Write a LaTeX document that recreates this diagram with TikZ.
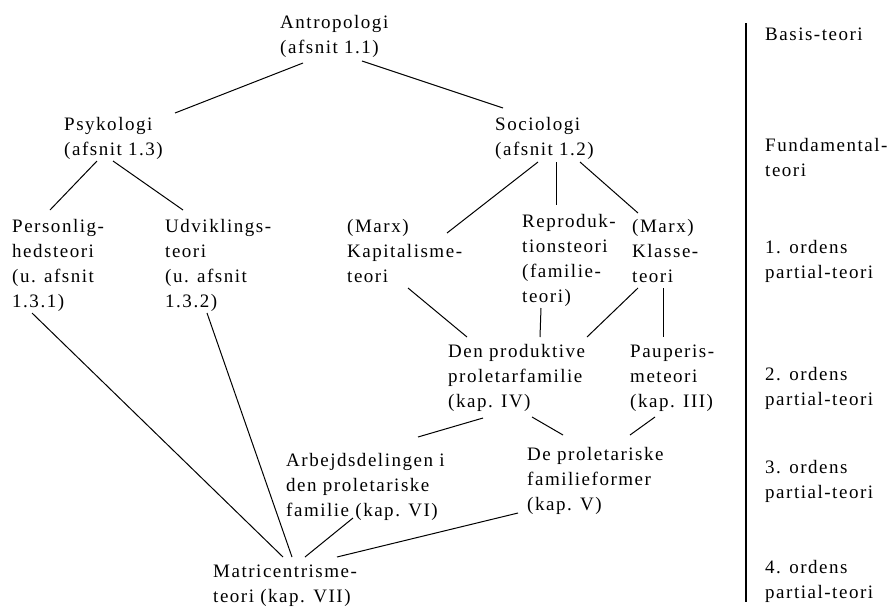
\documentclass[tikz,border=0pt]{standalone}
\usepackage{fontspec}
\setmainfont{Liberation Serif}[LetterSpace=8]
\usepackage{tikz}

\newcommand{\stk}[1]{\begin{tabular}[t]{@{}l@{}}#1\end{tabular}}

\begin{document}
\begin{tikzpicture}[x=1pt, y=-1pt,
  txt/.style={inner sep=0pt, anchor=base west, font=\fontsize{19}{25}\selectfont},
  link/.style={line width=1pt}]
\useasboundingbox (0,0) rectangle (891,606);

\node[txt] (antro) at (280,28) {\stk{Antropologi\\(afsnit 1.1)}};
\node[txt] (psyk) at (64,130) {\stk{Psykologi\\(afsnit 1.3)}};
\node[txt] (socio) at (495,130) {\stk{Sociologi\\(afsnit 1.2)}};

\node[txt] (pers) at (12,232) {\stk{Personlig-\\hedsteori\\(u. afsnit\\1.3.1)}};
\node[txt] (udv) at (165,232) {\stk{Udviklings-\\teori\\(u. afsnit\\1.3.2)}};
\node[txt] (kapit) at (347,232) {\stk{(Marx)\\Kapitalisme-\\teori}};
\node[txt] (repro) at (522,227) {\stk{Reproduk-\\tionsteori\\(familie-\\teori)}};
\node[txt] (klasse) at (632,232) {\stk{(Marx)\\Klasse-\\teori}};

\node[txt] (prodfam) at (448,357) {\stk{Den produktive\\proletarfamilie\\(kap. IV)}};
\node[txt] (pauper) at (630,357) {\stk{Pauperis-\\meteori\\(kap. III)}};

\node[txt] (arbejd) at (286,466) {\stk{Arbejdsdelingen i\\den proletariske\\familie (kap. VI)}};
\node[txt] (proleform) at (527,460) {\stk{De proletariske\\familieformer\\(kap. V)}};

\node[txt] (matri) at (213,577) {\stk{Matricentrisme-\\teori (kap. VII)}};

% levels
\coordinate (divtop) at (746,23);
\coordinate (divbot) at (746,602);
\draw[line width=1.8pt] (divtop) -- (divbot);
\node[txt] (basis) at (765,40) {Basis-teori};
\node[txt] (fund) at (765,151) {\stk{Fundamental-\\teori}};
\node[txt] (ord1) at (765,253) {\stk{1. ordens\\partial-teori}};
\node[txt] (ord2) at (765,380) {\stk{2. ordens\\partial-teori}};
\node[txt] (ord3) at (765,473) {\stk{3. ordens\\partial-teori}};
\node[txt] (ord4) at (765,573) {\stk{4. ordens\\partial-teori}};

\draw[link] ([shift={(23,35)}]antro.base west) -- ([shift={(111,-17)}]psyk.base west);
\draw[link] ([shift={(82,33)}]antro.base west) -- ([shift={(8,-22)}]socio.base west);

\draw[link] ([shift={(33,31)}]psyk.base west) -- ([shift={(38,-22)}]pers.base west);
\draw[link] ([shift={(49,31)}]psyk.base west) -- ([shift={(18,-22)}]udv.base west);

\draw[link] ([shift={(43,32)}]socio.base west) -- ([shift={(100,1)}]kapit.base west);
\draw[link] ([shift={(61,32)}]socio.base west) -- ([shift={(34,-22)}]repro.base west);
\draw[link] ([shift={(85,32)}]socio.base west) -- ([shift={(6,-19)}]klasse.base west);

\draw[link] ([shift={(61,56)}]kapit.base west) -- ([shift={(19,-20)}]prodfam.base west);
\draw[link] ([shift={(19,81)}]repro.base west) -- ([shift={(92,-20)}]prodfam.base west);
\draw[link] ([shift={(6,56)}]klasse.base west) -- ([shift={(139,-20)}]prodfam.base west);
\draw[link] ([shift={(31,56)}]klasse.base west) -- ([shift={(33,-20)}]pauper.base west);

\draw[link] ([shift={(35,61)}]prodfam.base west) -- ([shift={(132,-29)}]arbejd.base west);
\draw[link] ([shift={(84,60)}]prodfam.base west) -- ([shift={(36,-25)}]proleform.base west);
\draw[link] ([shift={(25,60)}]pauper.base west) -- ([shift={(103,-25)}]proleform.base west);

\draw[link] ([shift={(20,81)}]pers.base west) -- ([shift={(70,-20)}]matri.base west);
\draw[link] ([shift={(42,81)}]udv.base west) -- ([shift={(79,-20)}]matri.base west);
\draw[link] ([shift={(67,52)}]arbejd.base west) -- ([shift={(92,-20)}]matri.base west);
\draw[link] ([shift={(-9,53)}]proleform.base west) -- ([shift={(124,-20)}]matri.base west);
\end{tikzpicture}
\end{document}
